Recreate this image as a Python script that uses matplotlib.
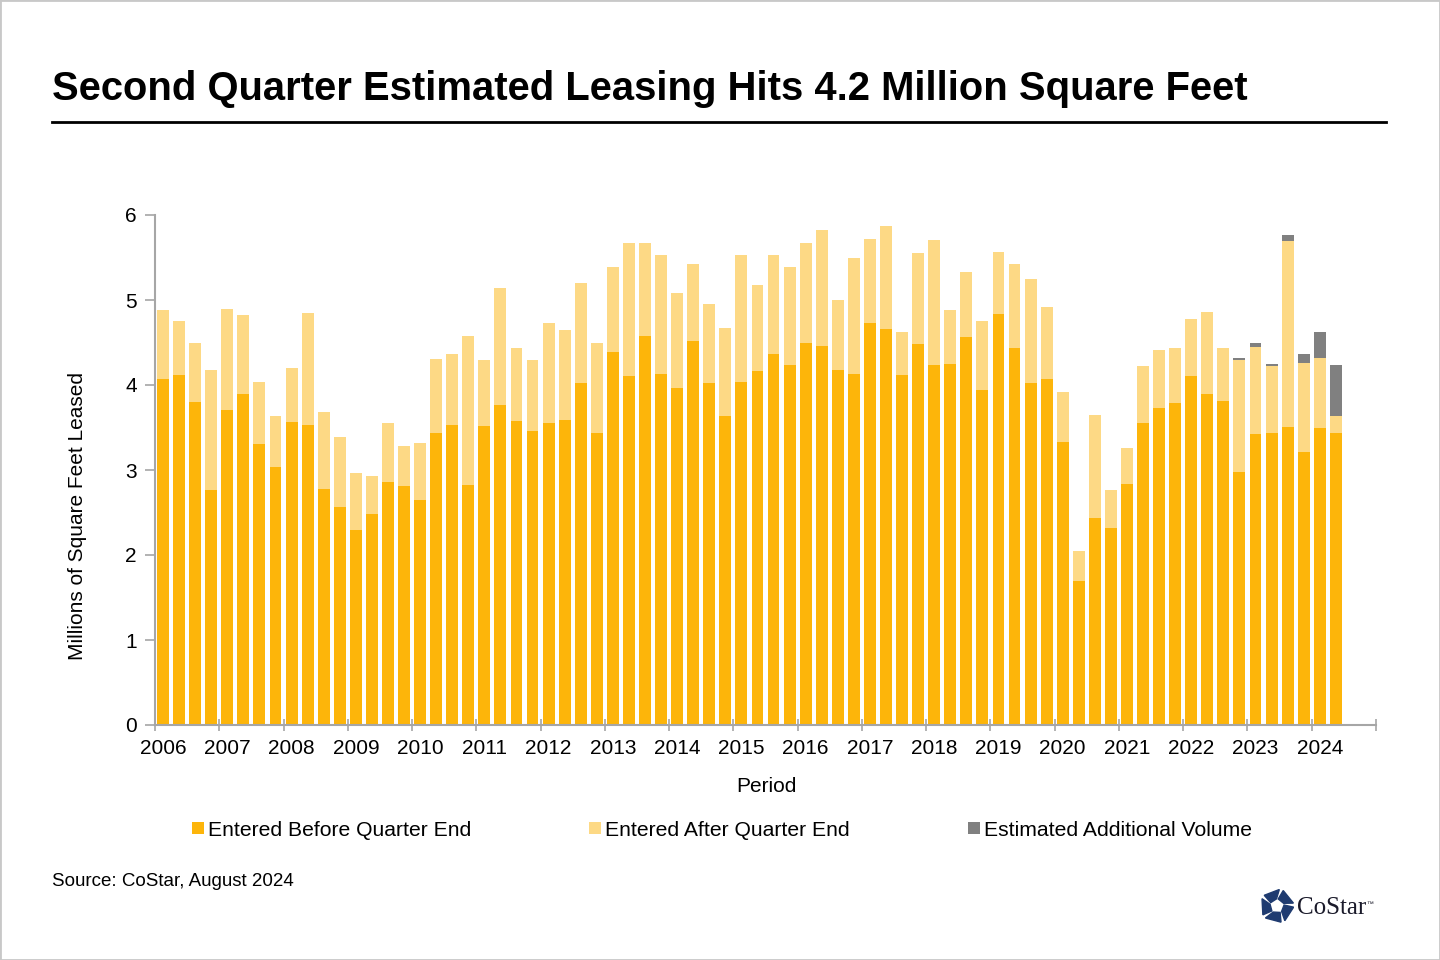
import numpy as np
import matplotlib
matplotlib.use("Agg")
import matplotlib.pyplot as plt
from matplotlib.patches import Rectangle, Polygon
from matplotlib.lines import Line2D

plt.rcParams['font.family'] = ['Liberation Sans', 'DejaVu Sans']

# ---------------- data ----------------
years = [str(y) for y in range(2006, 2025)]
before = [4.07, 4.12, 3.80, 2.76, 3.71, 3.89, 3.31, 3.04, 3.57, 3.53, 2.78, 2.57,
          2.29, 2.48, 2.86, 2.81, 2.65, 3.44, 3.53, 2.82, 3.52, 3.76, 3.58, 3.46,
          3.55, 3.59, 4.02, 3.43, 4.39, 4.11, 4.58, 4.13, 3.97, 4.52, 4.02, 3.64,
          4.03, 4.17, 4.36, 4.24, 4.50, 4.46, 4.18, 4.13, 4.73, 4.66, 4.12, 4.48,
          4.24, 4.25, 4.56, 3.94, 4.83, 4.43, 4.02, 4.07, 3.33, 1.70, 2.43, 2.32,
          2.84, 3.55, 3.73, 3.79, 4.11, 3.89, 3.81, 2.98, 3.42, 3.43, 3.51, 3.21,
          3.50, 3.43]
after = [0.81, 0.63, 0.70, 1.42, 1.19, 0.93, 0.73, 0.59, 0.63, 1.32, 0.90, 0.82,
         0.68, 0.45, 0.69, 0.47, 0.67, 0.86, 0.83, 1.76, 0.77, 1.38, 0.86, 0.83,
         1.18, 1.06, 1.18, 1.07, 1.00, 1.56, 1.09, 1.40, 1.11, 0.90, 0.93, 1.03,
         1.50, 1.01, 1.17, 1.15, 1.17, 1.36, 0.82, 1.36, 0.99, 1.21, 0.50, 1.07,
         1.47, 0.63, 0.77, 0.81, 0.74, 0.99, 1.23, 0.85, 0.59, 0.35, 1.22, 0.44,
         0.42, 0.67, 0.68, 0.65, 0.67, 0.97, 0.62, 1.32, 1.03, 0.79, 2.19, 1.05,
         0.82, 0.21]
additional = [0.0] * 66 + [0.01, 0.015, 0.04, 0.03, 0.07, 0.11, 0.30, 0.60]
y_ticks = [0, 1, 2, 3, 4, 5, 6]

c_before = '#FDB50A'
c_after = '#FDD985'
c_add = '#808080'
axis_grey = '#A6A6A6'

# ---------------- figure ----------------
W, H = 1440, 960
fig = plt.figure(figsize=(W / 100, H / 100), dpi=100)

def fx(px):
    return px / W

def fy(py):
    return 1 - py / H

# border
fig.patches.append(Rectangle((0, 0), 1, 1, transform=fig.transFigure,
                             fill=False, edgecolor='#C8C8C8', linewidth=2))

# title and rule
fig.text(fx(52), fy(89), 'Second Quarter Estimated Leasing Hits 4.2 Million Square Feet',
         fontsize=28.8, fontweight='bold', ha='left', va='center', color='black')
fig.add_artist(Line2D([fx(52), fx(1386)], [fy(122), fy(122)], color='black',
                      linewidth=2, transform=fig.transFigure))

# axes
ax = fig.add_axes([fx(155), fy(725), fx(1376) - fx(155), fy(215) - fy(725)])
n = len(before)
x = np.arange(n)
bw = 0.74
b1 = np.array(before)
b2 = np.array(after)
b3 = np.array(additional)
ax.bar(x, b1, width=bw, color=c_before, label='Entered Before Quarter End', zorder=2)
ax.bar(x, b2, width=bw, bottom=b1, color=c_after, label='Entered After Quarter End', zorder=2)
ax.bar(x, b3, width=bw, bottom=b1 + b2, color=c_add, label='Estimated Additional Volume', zorder=2)

ax.set_xlim(-0.5, 75.5)
ax.set_ylim(0, 6)
for s in ['top', 'right']:
    ax.spines[s].set_visible(False)
for s in ['left', 'bottom']:
    ax.spines[s].set_color(axis_grey)
    ax.spines[s].set_linewidth(1.5)

ax.set_yticks(y_ticks)
ax.set_yticklabels([str(v) for v in y_ticks])
ax.tick_params(axis='y', direction='out', length=7, width=1.2, color=axis_grey,
               labelsize=15, pad=6)

ax.set_xticks([-0.5 + 4 * k for k in range(20)])
ax.set_xticklabels([])
ax.tick_params(axis='x', which='major', direction='inout', length=8, width=1.2,
               color=axis_grey)
ax.set_xticks([4 * k for k in range(len(years))], minor=True)
ax.set_xticklabels(years, minor=True)
ax.tick_params(axis='x', which='minor', length=0, labelsize=15, pad=10)

fig.text(fx(78), fy(516), 'Millions of Square Feet Leased', rotation=90,
         ha='center', va='center', fontsize=15)
fig.text(fx(766), fy(786), 'Period', ha='center', va='center', fontsize=15)

# legend
handles, labels = ax.get_legend_handles_labels()
leg = fig.legend(handles, labels, loc='center left', bbox_to_anchor=(fx(192), fy(830)),
                 ncol=3, frameon=False, fontsize=15.2, handlelength=0.55,
                 handleheight=0.55, handletextpad=0.2, columnspacing=5.6,
                 borderaxespad=0, borderpad=0)

# source
fig.text(fx(52), fy(881), 'Source: CoStar, August 2024', ha='left', va='center',
         fontsize=13.5)

# CoStar logo
lax = fig.add_axes([fx(1260), fy(923), fx(34), fy(889) - fy(923)])
lax.set_xlim(-1, 1)
lax.set_ylim(-1, 1)
lax.axis('off')
navy = '#1F3B70'
R, r = 0.98, 0.42
for k in range(5):
    t = np.deg2rad(90 + 72 * k)
    pts = [
        (R * np.cos(t - np.deg2rad(8)), R * np.sin(t - np.deg2rad(8))),
        (R * np.cos(t + np.deg2rad(50)), R * np.sin(t + np.deg2rad(50))),
        (r * np.cos(t + np.deg2rad(62)), r * np.sin(t + np.deg2rad(62))),
        (r * np.cos(t + np.deg2rad(4)), r * np.sin(t + np.deg2rad(4))),
    ]
    lax.add_patch(Polygon(pts, closed=True, color=navy))
fig.text(fx(1297), fy(908), 'CoStar', ha='left', va='center', fontsize=18,
         family=['Liberation Serif', 'DejaVu Serif'], color='#1A1A2A')
fig.text(fx(1366), fy(904), '™', ha='left', va='center', fontsize=5, color='#1A1A2A')

fig.savefig('out.png', dpi=100)
